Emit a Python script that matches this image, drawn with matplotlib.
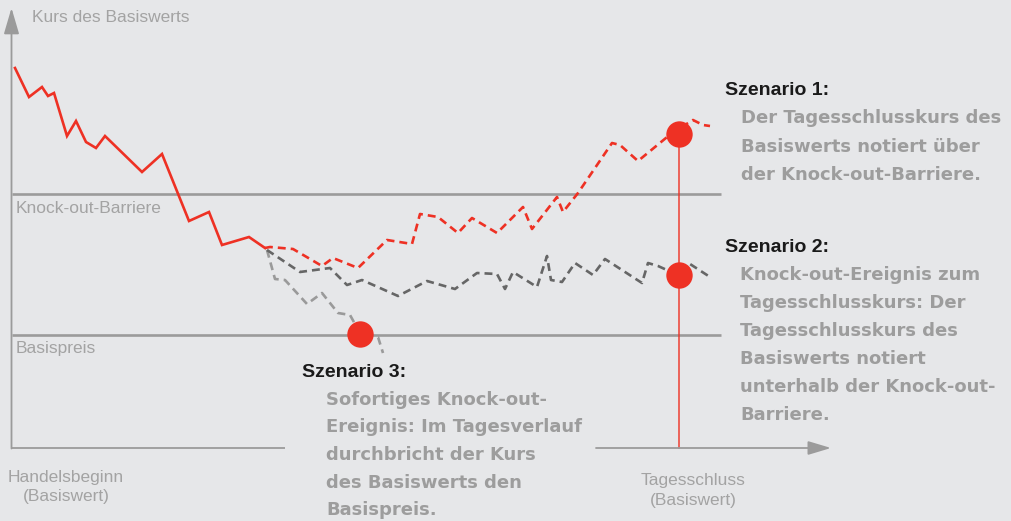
import matplotlib
matplotlib.use("Agg")
import matplotlib.pyplot as plt

# ---------------- data (x = time position, y = price level) ----------------
hist_x = [15, 29, 42, 48, 54, 67, 76, 86, 96, 105, 142, 162, 189, 209, 222, 249, 265]
hist_y = [453, 424, 434, 425, 428, 385, 400, 379, 373, 385, 349, 367, 300, 309, 276, 284, 273]

s1_x = [265, 270, 293, 322, 333, 358, 387, 412, 420, 438, 458, 472, 497, 523, 532, 557, 563,
        578, 612, 620, 638, 672, 693, 703, 710]
s1_y = [273, 274, 272, 255, 263, 253, 281, 277, 307, 304, 288, 303, 288, 314, 292, 324, 309,
        328, 378, 376, 360, 388, 401, 396, 395]

s2_x = [267, 300, 330, 347, 362, 398, 427, 455, 477, 497, 505, 513, 537, 547, 551, 562, 575,
        593, 605, 642, 648, 658, 678, 690, 710]
s2_y = [271, 249, 253, 236, 241, 225, 240, 232, 248, 247, 232, 249, 234, 265, 241, 239, 258,
        246, 262, 238, 258, 255, 246, 257, 244]

s3_x = [267, 275, 285, 307, 322, 338, 350, 360, 378, 383]
s3_y = [271, 242, 241, 217, 228, 208, 206, 188, 184, 168]

barrier_level = 327
strike_level = 186
close_x = 679
event_x = [360, 679, 679]
event_y = [187, 387, 246]

# ---------------- style ----------------
BG = "#e6e7e9"
RED = "#ee3124"
DARK = "#666666"
LIGHT = "#9a9a9a"
AXIS = "#9b9b9b"
LABEL = "#a3a3a3"
BODY = "#9d9d9d"

fig = plt.figure(figsize=(10.11, 5.21), dpi=100, facecolor=BG)
ax = fig.add_axes([0, 0, 1, 1])
ax.set_facecolor(BG)
ax.set_xlim(0, 1011)
ax.set_ylim(0, 521)
ax.axis("off")

x0 = 11.5
base = 73

# axes
ax.annotate("", xy=(x0, 513), xytext=(x0, base - 0.5),
            arrowprops=dict(arrowstyle="-|>,head_length=16,head_width=4.7",
                            mutation_scale=1, color=AXIS, lw=1.3, shrinkA=0, shrinkB=0))
ax.plot([x0, 285], [base, base], color=AXIS, lw=1.3, solid_capstyle="butt")
ax.annotate("", xy=(831, base), xytext=(596, base),
            arrowprops=dict(arrowstyle="-|>,head_length=14,head_width=4.2",
                            mutation_scale=1, color=AXIS, lw=1.3, shrinkA=0, shrinkB=0))

# levels
ax.plot([x0, 721], [barrier_level, barrier_level], color=AXIS, lw=1.9, solid_capstyle="butt")
ax.plot([x0, 721], [strike_level, strike_level], color=AXIS, lw=1.9, solid_capstyle="butt")

# closing vertical line
ax.plot([close_x, close_x], [base, event_y[1]], color=RED, lw=1.2, alpha=0.85)

# price paths
dash = (3.0, 1.9)
ax.plot(s3_x, s3_y, color=LIGHT, lw=1.9, dashes=dash)
ax.plot(s2_x, s2_y, color=DARK, lw=1.9, dashes=dash)
ax.plot(s1_x, s1_y, color=RED, lw=1.9, dashes=dash)
ax.plot(hist_x, hist_y, color=RED, lw=1.9, solid_joinstyle="miter")

# events
ax.plot(event_x, event_y, "o", ms=19, color=RED, mec="none", zorder=5)

# axis labels
lab = dict(family=["Liberation Sans", "DejaVu Sans"], fontsize=12.5, color=LABEL)
ax.text(32, 521 - 22, "Kurs des Basiswerts", ha="left", va="baseline", **lab)
ax.text(16, 521 - 213, "Knock-out-Barriere", ha="left", va="baseline", **lab)
ax.text(16, 521 - 353, "Basispreis", ha="left", va="baseline", **lab)
ax.text(66, 521 - 482, "Handelsbeginn", ha="center", va="baseline", **lab)
ax.text(66, 521 - 501, "(Basiswert)", ha="center", va="baseline", **lab)
ax.text(693, 521 - 485, "Tagesschluss", ha="center", va="baseline", **lab)
ax.text(693, 521 - 505, "(Basiswert)", ha="center", va="baseline", **lab)

# scenario texts
head = dict(family=["Liberation Sans", "DejaVu Sans"], fontsize=14, fontweight="bold",
            color="#1a1a1a")
body = dict(family=["DejaVu Sans"], fontsize=13.0, fontweight="bold", color=BODY)

ax.text(725, 521 - 95, "Szenario 1:", ha="left", va="baseline", **head)
for i, line in enumerate(["Der Tagesschlusskurs des", "Basiswerts notiert über",
                          "der Knock-out-Barriere."]):
    ax.text(741, 521 - (123 + 28.5 * i), line, ha="left", va="baseline", **body)

ax.text(725, 521 - 252, "Szenario 2:", ha="left", va="baseline", **head)
for i, line in enumerate(["Knock-out-Ereignis zum", "Tagesschlusskurs: Der",
                          "Tagesschlusskurs des", "Basiswerts notiert",
                          "unterhalb der Knock-out-", "Barriere."]):
    ax.text(740, 521 - (280 + 28 * i), line, ha="left", va="baseline", **body)

ax.text(302, 521 - 377, "Szenario 3:", ha="left", va="baseline", **head)
for i, line in enumerate(["Sofortiges Knock-out-", "Ereignis: Im Tagesverlauf",
                          "durchbricht der Kurs", "des Basiswerts den",
                          "Basispreis."]):
    ax.text(326, 521 - (405 + 27.5 * i), line, ha="left", va="baseline", **body)

fig.savefig("out.png", dpi=100, facecolor=BG)
